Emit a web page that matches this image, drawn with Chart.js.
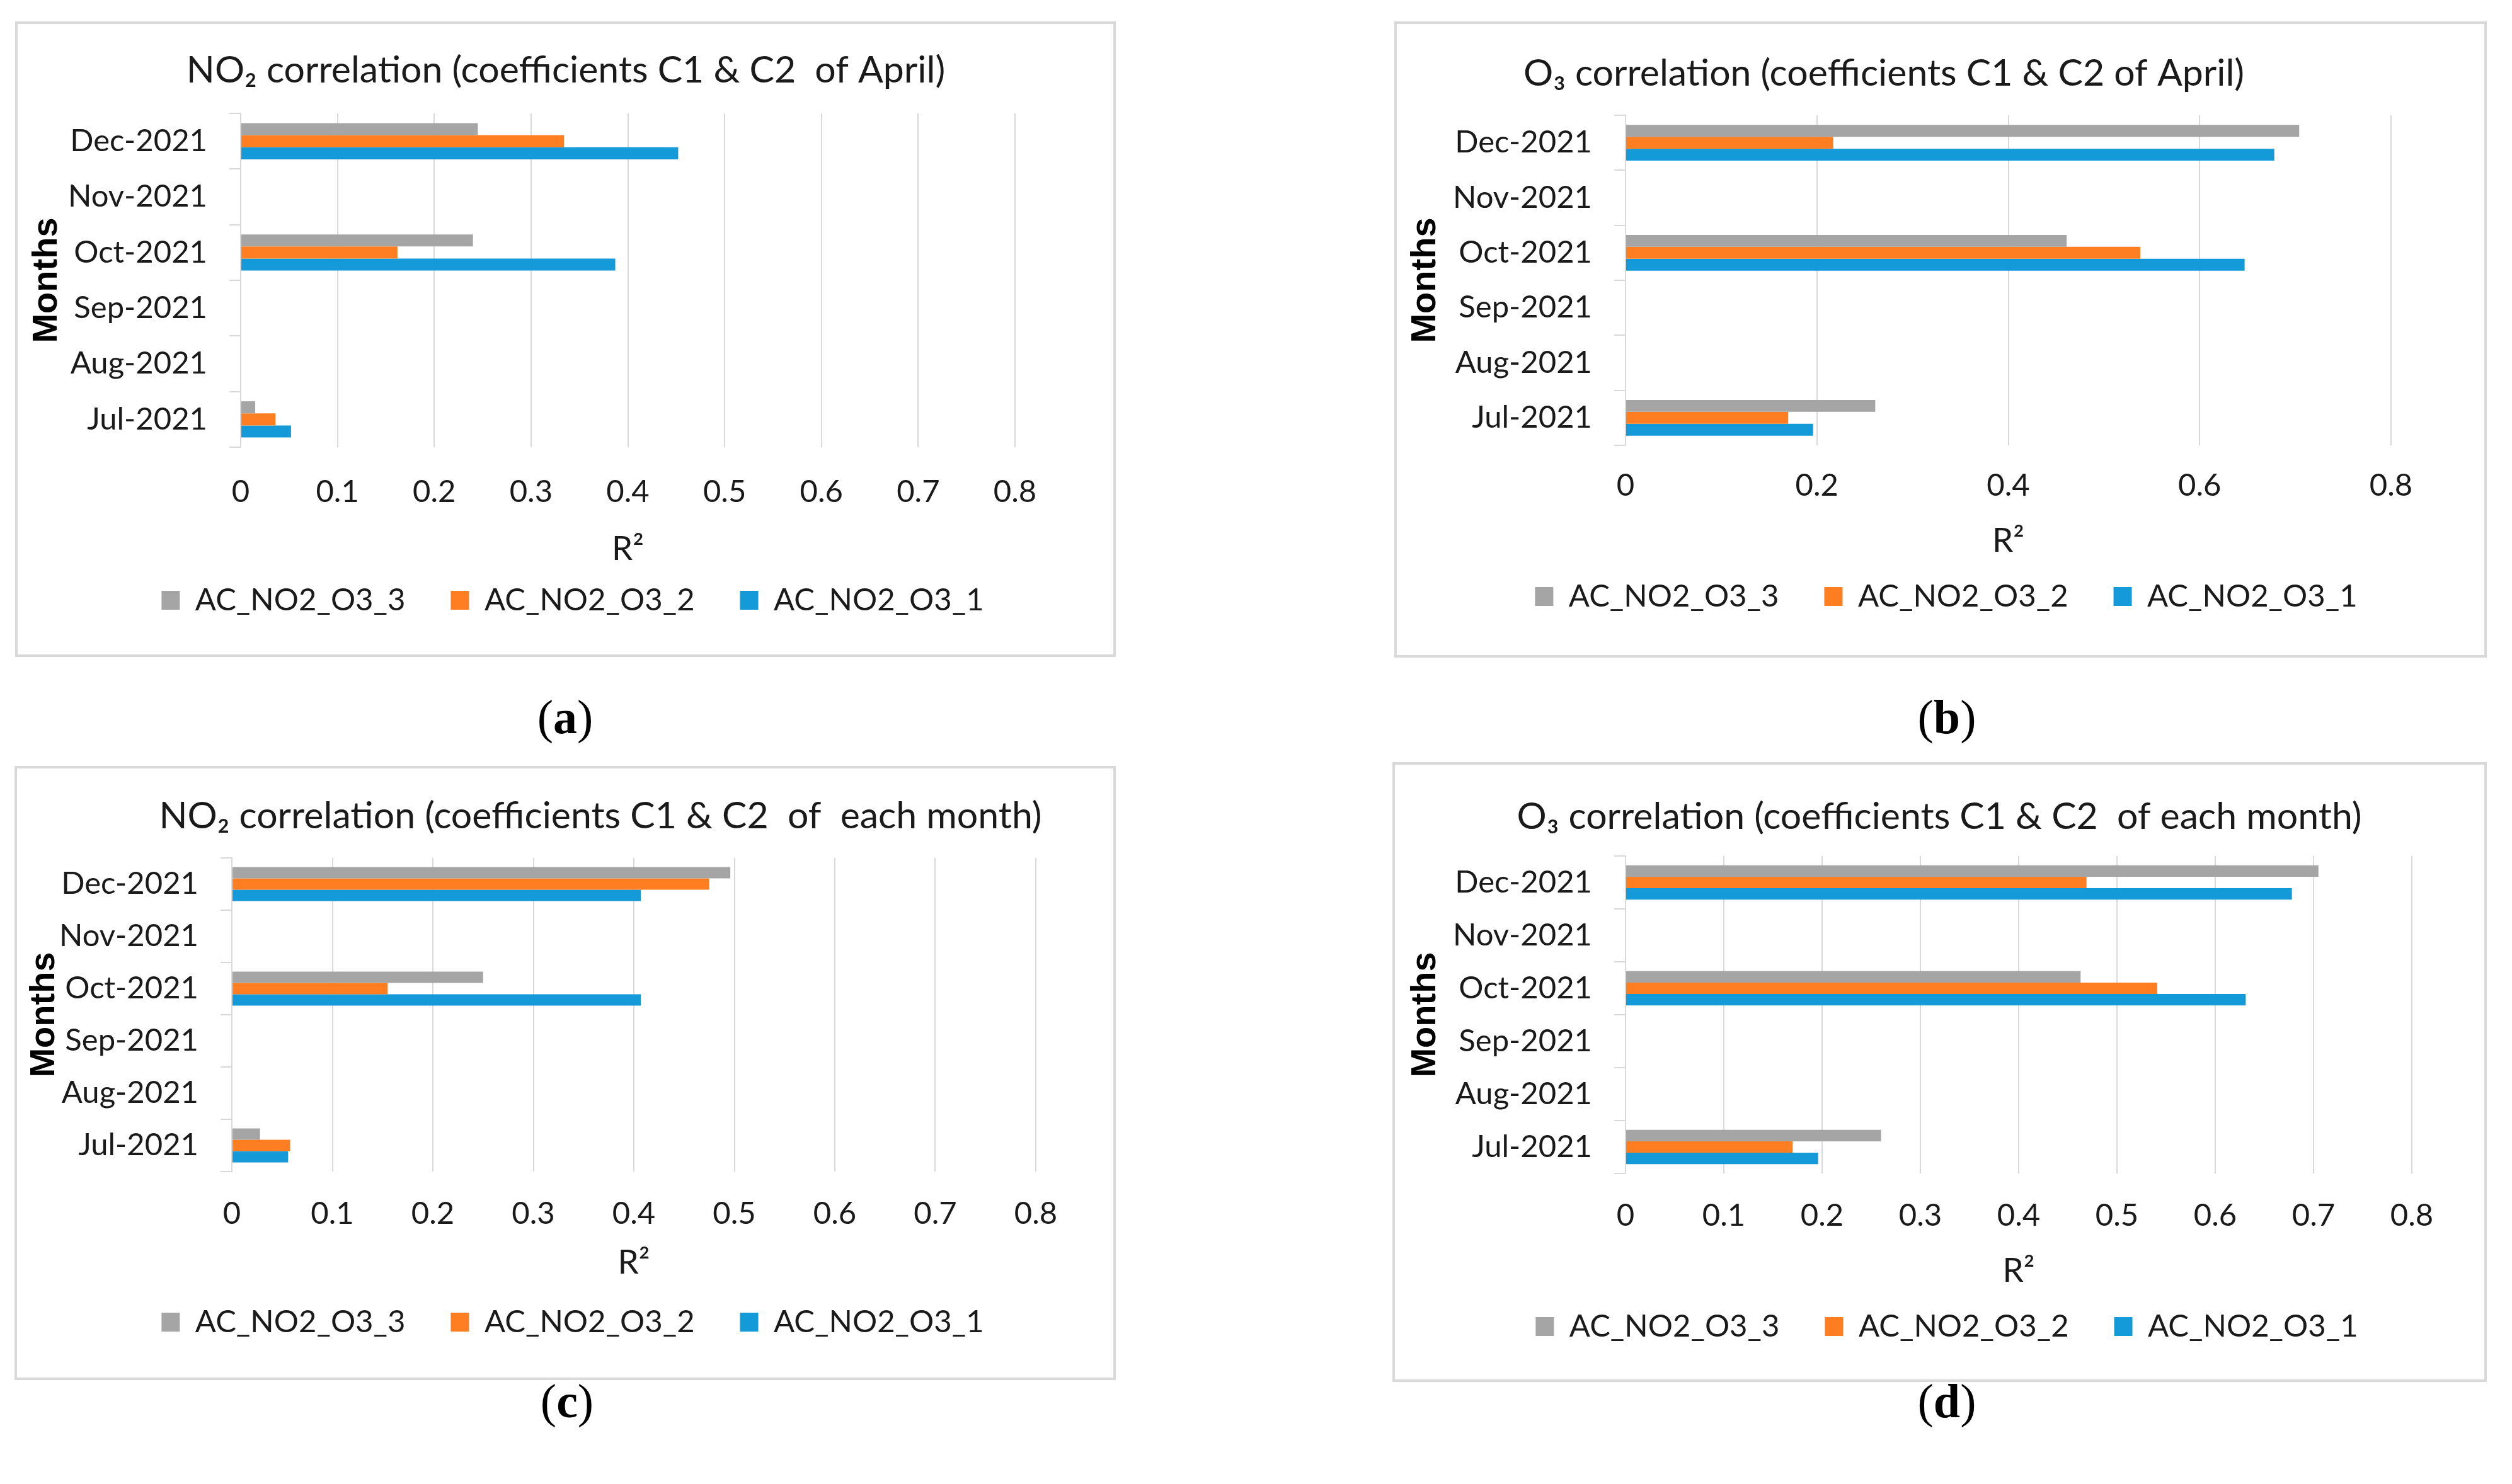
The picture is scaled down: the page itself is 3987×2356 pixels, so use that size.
<!DOCTYPE html>
<html><head><meta charset="utf-8">
<script src="https://cdn.jsdelivr.net/npm/chart.js@4.4.1/dist/chart.umd.min.js"></script>
<style>
html,body{margin:0;padding:0;background:#fff;}
body{width:3987px;height:2356px;position:relative;overflow:hidden;}
.frame{position:absolute;border:4px solid #d9d9d9;box-sizing:border-box;}
canvas{position:absolute;}
.cap{position:absolute;font-family:'Liberation Serif','Times New Roman',serif;font-size:76px;color:#000;transform:translate(-50%,-50%);white-space:nowrap;}
</style></head><body>
<script>
// ---------- data ----------
const months = ['Jul-2021','Aug-2021','Sep-2021','Oct-2021','Nov-2021','Dec-2021'];
const seriesLabels = ['AC_NO2_O3_3','AC_NO2_O3_2','AC_NO2_O3_1'];
const ticksFine = [0,0.1,0.2,0.3,0.4,0.5,0.6,0.7,0.8];
const ticksCoarse = [0,0.2,0.4,0.6,0.8];
const titleA = 'NO\u2082 correlation (coefficients C1 & C2  of April)';
const titleB = 'O\u2083 correlation (coefficients C1 & C2 of April)';
const titleC = 'NO\u2082 correlation (coefficients C1 & C2  of  each month)';
const titleD = 'O\u2083 correlation (coefficients C1 & C2  of each month)';
const xTitle = 'R\u00b2';
const yTitle = 'Months';
const captions = ['a','b','c','d'];

const aS3 = [0.015, null, null, 0.240, null, 0.245];
const aS2 = [0.036, null, null, 0.162, null, 0.334];
const aS1 = [0.052, null, null, 0.387, null, 0.452];
const bS3 = [0.261, null, null, 0.461, null, 0.704];
const bS2 = [0.170, null, null, 0.538, null, 0.217];
const bS1 = [0.196, null, null, 0.647, null, 0.678];
const cS3 = [0.028, null, null, 0.250, null, 0.496];
const cS2 = [0.058, null, null, 0.155, null, 0.475];
const cS1 = [0.056, null, null, 0.407, null, 0.407];
const dS3 = [0.260, null, null, 0.463, null, 0.705];
const dS2 = [0.170, null, null, 0.541, null, 0.469];
const dS1 = [0.196, null, null, 0.631, null, 0.678];

// ---------- styles / layout ----------
const COLORS = ['#A5A5A5', '#FF7E22', '#149AD9'];
const FONT = "Lato, 'DejaVu Sans', sans-serif";
const TEXT = '#1a1a1a';

const panels = [
  {title:titleA, series:[aS3,aS2,aS1], ticks:ticksFine,
   box:{x:24,y:34,w:1747,h:1009}, plot:{l:382,r:1611,t:180,b:710},
   titleCY:112, titleCX:898, tickCY:781, rCY:872, legendCY:953, legendCX:909, monthsCX:75, cap:{x:897,y:1138}},
  {title:titleB, series:[bS3,bS2,bS1], ticks:ticksCoarse,
   box:{x:2213,y:34,w:1734,h:1010}, plot:{l:2580,r:3795,t:183,b:707},
   titleCY:117, titleCX:2990, tickCY:771, rCY:859, legendCY:947, legendCX:3089, monthsCX:2263, cap:{x:3090,y:1138}},
  {title:titleC, series:[cS3,cS2,cS1], ticks:ticksFine,
   box:{x:23,y:1216,w:1748,h:975}, plot:{l:368,r:1644,t:1362,b:1860},
   titleCY:1296, titleCX:953, tickCY:1927, rCY:2005, legendCY:2099, legendCX:909, monthsCX:71, cap:{x:900,y:2224}},
  {title:titleD, series:[dS3,dS2,dS1], ticks:ticksFine,
   box:{x:2210,y:1210,w:1737,h:984}, plot:{l:2580,r:3828,t:1359,b:1863},
   titleCY:1297, titleCX:3078, tickCY:1930, rCY:2018, legendCY:2106, legendCX:3090, monthsCX:2263, cap:{x:3090,y:2224}}
];

function makeChart(p, idx) {
  const W = p.box.w, H = p.box.h, ox = p.box.x, oy = p.box.y;
  const plotL = p.plot.l - ox, plotR = p.plot.r - ox, plotT = p.plot.t - oy, plotB = p.plot.b - oy;
  const titleCY = p.titleCY - oy, tickCY = p.tickCY - oy, rCY = p.rCY - oy, legendCY = p.legendCY - oy;
  const titleCX = p.titleCX - ox, legendCX = p.legendCX - ox, monthsCX = p.monthsCX - ox;

  const TS = 59, TLH = TS * 1.2;
  const LF = 49, LP = 72, BOXH = 30, itemH = Math.max(LF, BOXH);
  const legendTop = legendCY - LP - itemH / 2;
  const legendBottom = legendTop + itemH + LP + 10;
  const padBottom = H - legendBottom;
  const xH = legendTop - plotB;
  const TF = 49;
  const tickPad = tickCY - plotB - TF * 1.2 / 2;
  const RF = 53, RLH = RF * 1.2;
  const rPadBottom = legendTop - rCY - RLH / 2;
  const MF = 56, MLH = MF * 1.2;
  const mPadTop = monthsCX - MLH / 2;

  const frame = document.createElement('div');
  frame.className = 'frame';
  Object.assign(frame.style, {left: ox + 'px', top: oy + 'px', width: W + 'px', height: H + 'px'});
  document.body.appendChild(frame);

  const cv = document.createElement('canvas');
  cv.width = W; cv.height = H;
  Object.assign(cv.style, {left: ox + 'px', top: oy + 'px', width: W + 'px', height: H + 'px'});
  document.body.appendChild(cv);

  const cap = document.createElement('div');
  cap.className = 'cap';
  cap.innerHTML = '(<b>' + captions[idx] + '</b>)';
  Object.assign(cap.style, {left: p.cap.x + 'px', top: p.cap.y + 'px'});
  document.body.appendChild(cap);

  const tickVals = p.ticks;

  new Chart(cv, {
    type: 'bar',
    data: {
      labels: months,
      datasets: p.series.map((s, i) => ({
        label: seriesLabels[i], data: s, backgroundColor: COLORS[i], borderWidth: 0
      }))
    },
    options: {
      indexAxis: 'y', responsive: false, animation: false, devicePixelRatio: 1,
      layout: {padding: {left: 0, right: W - plotR, top: 0, bottom: padBottom}},
      datasets: {bar: {categoryPercentage: 0.65, barPercentage: 1.0}},
      scales: {
        x: {
          type: 'linear', position: 'bottom', min: 0, max: 0.8,
          afterFit: s => { s.height = xH; },
          afterBuildTicks: s => { s.ticks = tickVals.map(v => ({value: v})); },
          grid: {color: '#d9d9d9', lineWidth: 2, drawTicks: false, tickLength: 0},
          border: {display: false},
          ticks: {padding: tickPad, font: {family: FONT, size: TF}, color: TEXT, maxRotation: 0, autoSkip: false},
          title: {display: true, text: xTitle, font: {family: FONT, size: RF}, color: TEXT, padding: {top: 0, bottom: rPadBottom}}
        },
        y: {
          type: 'category', reverse: true,
          afterFit: s => { s.width = plotL; },
          grid: {offset: true, drawOnChartArea: false, drawTicks: true, tickLength: 18, color: '#d9d9d9', lineWidth: 2},
          border: {display: true, color: '#d9d9d9', width: 2},
          ticks: {padding: 35, font: {family: FONT, size: TF}, color: TEXT, autoSkip: false},
          title: {display: true, text: yTitle, font: {family: "'Liberation Sans', Arial, sans-serif", size: MF, weight: 'bold'}, color: '#000', padding: {top: mPadTop, bottom: 0}}
        }
      },
      plugins: {
        title: {display: true, text: p.title, font: {family: FONT, size: TS, weight: 'normal'}, color: TEXT,
                padding: {top: titleCY - TLH / 2, bottom: plotT - titleCY - TLH / 2}},
        legend: {position: 'bottom', labels: {boxWidth: 29, boxHeight: BOXH, padding: LP, font: {family: FONT, size: LF}, color: TEXT}},
        tooltip: {enabled: false}
      }
    },
    plugins: [{
      id: 'centerBlocks',
      afterLayout(chart) {
        const t = chart.titleBlock;
        if (t) { const w = t.right - t.left; t.left = titleCX - w / 2; t.right = titleCX + w / 2; }
        const l = chart.legend;
        if (l) { const w = l.right - l.left; l.left = legendCX - w / 2; l.right = legendCX + w / 2; }
      }
    }]
  });
}

panels.forEach(makeChart);
</script>
</body></html>
